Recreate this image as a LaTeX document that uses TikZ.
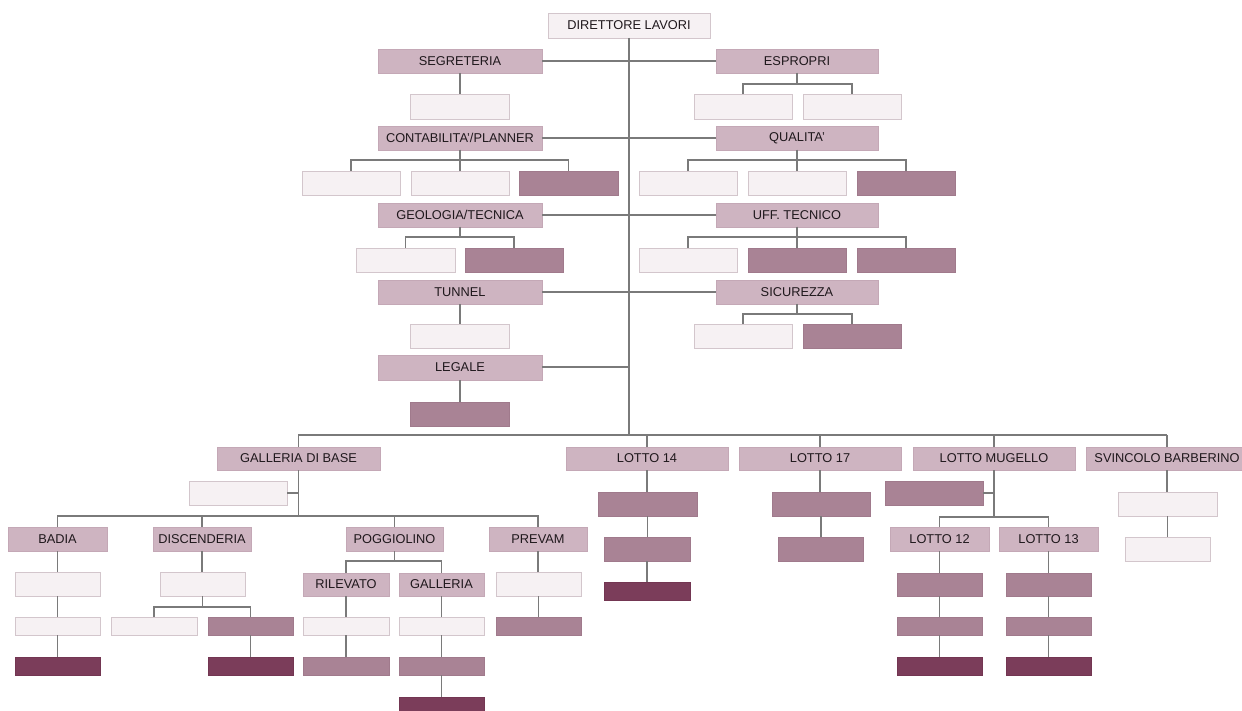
\documentclass[tikz,border=0pt]{standalone}
\usepackage{fontspec}
\setmainfont{Liberation Sans}
\definecolor{ltfill}{HTML}{F6F1F3}
\definecolor{ltdraw}{HTML}{D3C6CC}
\definecolor{hdfill}{HTML}{CEB4C1}
\definecolor{hddraw}{HTML}{C4A8B6}
\definecolor{dkfill}{HTML}{A98395}
\definecolor{dkdraw}{HTML}{A07A8C}
\definecolor{ddfill}{HTML}{7B3D5A}
\definecolor{dddraw}{HTML}{733652}
\definecolor{linecol}{HTML}{7A7A7A}
\definecolor{txtcol}{HTML}{1F181C}
\tikzset{
  boxbase/.style={rectangle, inner sep=0pt, outer sep=0pt, line width=0.8pt,
    font=\fontsize{12.8}{14}\selectfont, text=txtcol, anchor=north west},
  lt/.style={boxbase, fill=ltfill, draw=ltdraw},
  hd/.style={boxbase, fill=hdfill, draw=hddraw},
  dk/.style={boxbase, fill=dkfill, draw=dkdraw},
  dd/.style={boxbase, fill=ddfill, draw=dddraw},
  ln/.style={draw=linecol, line width=1.25pt}
}
\newcommand\bx[7]{\node[#1, minimum width={(#5-#3)*1pt}, minimum height={(#6-#4)*1pt}] (#2) at (#3,#4) {#7};}
\newcommand\fork[3]{\foreach \c in {#3}{\draw[ln] (#1.south) |- (\c.north |- 0,#2) -- (\c.north);}}
\newcommand\chain[2]{\draw[ln] (#1.south) -- (#1.south |- #2.north);}
\begin{document}
\begin{tikzpicture}[x=1pt,y=-1pt]
\useasboundingbox (0,0) rectangle (1242,711);
\fill[white] (0,0) rectangle (1242,711);
\coordinate (busL) at (298,435);
\coordinate (busR) at (1167,435);
\coordinate (legJ) at (629,367);
% boxes
\bx{lt}{dir}{548}{13}{710}{38}{DIRETTORE LAVORI}
\bx{hd}{seg}{378}{49}{542}{73}{SEGRETERIA}
\bx{hd}{esp}{716}{49}{878}{73}{ESPROPRI}
\bx{lt}{seg1}{410}{94}{509}{119}{}
\bx{lt}{esp1}{694}{94}{792}{119}{}
\bx{lt}{esp2}{803}{94}{901}{119}{}
\bx{hd}{con}{378}{126}{542}{150}{CONTABILITA'/PLANNER}
\bx{hd}{qua}{716}{126}{878}{150}{QUALITA'}
\bx{lt}{con1}{302}{171}{400}{195}{}
\bx{lt}{con2}{411}{171}{509}{195}{}
\bx{dk}{con3}{519}{171}{618}{195}{}
\bx{lt}{qua1}{639}{171}{737}{195}{}
\bx{lt}{qua2}{748}{171}{846}{195}{}
\bx{dk}{qua3}{857}{171}{955}{195}{}
\bx{hd}{geo}{378}{203}{542}{227}{GEOLOGIA/TECNICA}
\bx{hd}{uff}{716}{203}{878}{227}{UFF. TECNICO}
\bx{lt}{geo1}{356}{248}{455}{272}{}
\bx{dk}{geo2}{465}{248}{563}{272}{}
\bx{lt}{uff1}{639}{248}{737}{272}{}
\bx{dk}{uff2}{748}{248}{846}{272}{}
\bx{dk}{uff3}{857}{248}{955}{272}{}
\bx{hd}{tun}{378}{280}{542}{304}{TUNNEL}
\bx{hd}{sic}{716}{280}{878}{304}{SICUREZZA}
\bx{lt}{tun1}{410}{324}{509}{348}{}
\bx{lt}{sic1}{694}{324}{792}{348}{}
\bx{dk}{sic2}{803}{324}{901}{348}{}
\bx{hd}{leg}{378}{355}{542}{380}{LEGALE}
\bx{dk}{leg1}{410}{402}{509}{426}{}
% lower part
\bx{hd}{gdb}{217}{447}{380}{470}{GALLERIA DI BASE}
\bx{hd}{l14}{566}{447}{728}{470}{LOTTO 14}
\bx{hd}{l17}{739}{447}{901}{470}{LOTTO 17}
\bx{hd}{mug}{913}{447}{1075}{470}{LOTTO MUGELLO}
\bx{hd}{svi}{1086}{447}{1248}{470}{SVINCOLO BARBERINO}
\bx{lt}{gdb1}{189}{481}{287}{505}{}
\bx{hd}{bad}{8}{527}{107}{551}{BADIA}
\bx{hd}{dis}{153}{527}{251}{551}{DISCENDERIA}
\bx{hd}{pog}{346}{527}{443}{551}{POGGIOLINO}
\bx{hd}{pre}{489}{527}{587}{551}{PREVAM}
\bx{lt}{bad1}{15}{572}{100}{596}{}
\bx{lt}{bad2}{15}{617}{100}{635}{}
\bx{dd}{bad3}{15}{657}{100}{675}{}
\bx{lt}{dis1}{160}{572}{245}{596}{}
\bx{lt}{dis2}{111}{617}{197}{635}{}
\bx{dk}{dis3}{208}{617}{293}{635}{}
\bx{dd}{dis4}{208}{657}{293}{675}{}
\bx{hd}{ril}{303}{573}{389}{596}{RILEVATO}
\bx{hd}{gal}{399}{573}{484}{596}{GALLERIA}
\bx{lt}{ril1}{303}{617}{389}{635}{}
\bx{dk}{ril2}{303}{657}{389}{675}{}
\bx{lt}{gal1}{399}{617}{484}{635}{}
\bx{dk}{gal2}{399}{657}{484}{675}{}
\bx{dd}{gal3}{399}{697}{484}{715}{}
\bx{lt}{pre1}{496}{572}{581}{596}{}
\bx{dk}{pre2}{496}{617}{581}{635}{}
\bx{dk}{l14a}{598}{492}{697}{516}{}
\bx{dk}{l14b}{604}{537}{690}{561}{}
\bx{dd}{l14c}{604}{582}{690}{600}{}
\bx{dk}{l17a}{772}{492}{870}{516}{}
\bx{dk}{l17b}{778}{537}{863}{561}{}
\bx{dk}{mug1}{885}{481}{983}{505}{}
\bx{hd}{l12}{890}{527}{989}{551}{LOTTO 12}
\bx{hd}{l13}{999}{527}{1098}{551}{LOTTO 13}
\bx{dk}{l12a}{897}{573}{982}{596}{}
\bx{dk}{l12b}{897}{617}{982}{635}{}
\bx{dd}{l12c}{897}{657}{982}{675}{}
\bx{dk}{l13a}{1006}{573}{1091}{596}{}
\bx{dk}{l13b}{1006}{617}{1091}{635}{}
\bx{dd}{l13c}{1006}{657}{1091}{675}{}
\bx{lt}{svi1}{1118}{492}{1217}{516}{}
\bx{lt}{svi2}{1125}{537}{1210}{561}{}
% ---------- connectors ----------
\draw[ln] (dir.south) -- (dir.south |- busL);
\draw[ln] (busL) -- (busR);
\draw[ln] (seg.east) -- (esp.west);
\draw[ln] (con.east) -- (qua.west);
\draw[ln] (geo.east) -- (uff.west);
\draw[ln] (tun.east) -- (sic.west);
\draw[ln] (leg.east |- legJ) -- (legJ);
\chain{seg}{seg1}
\fork{esp}{84}{esp1,esp2}
\fork{con}{160}{con1,con2,con3}
\fork{qua}{160}{qua1,qua2,qua3}
\fork{geo}{237}{geo1,geo2}
\fork{uff}{237}{uff1,uff2,uff3}
\chain{tun}{tun1}
\fork{sic}{314}{sic1,sic2}
\chain{leg}{leg1}
% lower
\foreach \n in {gdb,l14,l17,mug,svi}{\draw[ln] (\n.north) -- (\n.north |- busL);}
\fork{gdb}{516}{bad,dis,pog,pre}
\draw[ln] (gdb1.east) -- (gdb.south |- gdb1.east);
\chain{bad}{bad1}\chain{bad1}{bad2}\chain{bad2}{bad3}
\chain{dis}{dis1}
\fork{dis1}{607}{dis2,dis3}
\chain{dis3}{dis4}
\fork{pog}{561}{ril,gal}
\chain{ril}{ril1}\chain{ril1}{ril2}
\chain{gal}{gal1}\chain{gal1}{gal2}\chain{gal2}{gal3}
\chain{pre}{pre1}\chain{pre1}{pre2}
\chain{l14}{l14a}\chain{l14a}{l14b}\chain{l14b}{l14c}
\chain{l17}{l17a}\chain{l17a}{l17b}
\fork{mug}{517}{l12,l13}
\draw[ln] (mug1.east) -- (mug.south |- mug1.east);
\chain{l12}{l12a}\chain{l12a}{l12b}\chain{l12b}{l12c}
\chain{l13}{l13a}\chain{l13a}{l13b}\chain{l13b}{l13c}
\chain{svi}{svi1}\chain{svi1}{svi2}
\end{tikzpicture}
\end{document}
